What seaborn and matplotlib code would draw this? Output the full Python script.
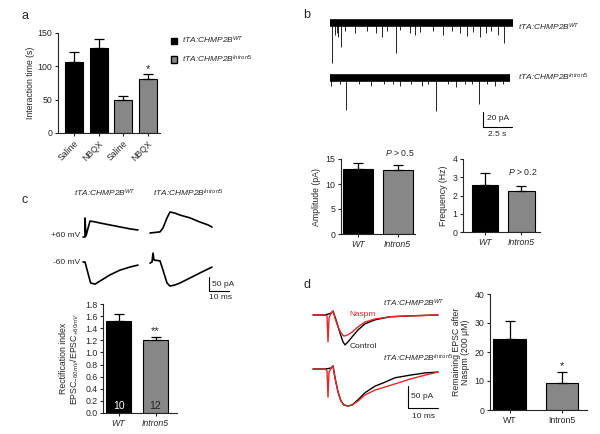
import numpy as np
import pandas as pd
import matplotlib
matplotlib.use('Agg')
import matplotlib.pyplot as plt
import seaborn as sns
from matplotlib.patches import Patch

sns.set_style('ticks')
plt.rcParams['font.family'] = ['Liberation Sans', 'DejaVu Sans']
plt.rcParams['mathtext.fontset'] = 'custom'
plt.rcParams['mathtext.rm'] = 'Liberation Sans'
plt.rcParams['mathtext.it'] = 'Liberation Sans:italic'
plt.rcParams['font.size'] = 6
plt.rcParams['axes.linewidth'] = 0.8

BLACK = '#000000'
GREY = '#878787'
RED = '#e8262a'
WT_LAB = r'tTA:CHMP2B$^{\mathit{WT}}$'
IN_LAB = r'tTA:CHMP2B$^{\mathit{Intron5}}$'

# ---- data ----
# a: social interaction time
a_groups = ['WT Saline', 'WT NBQX', 'Intron5 Saline', 'Intron5 NBQX']
a_ticks = ['Saline', 'NBQX', 'Saline', 'NBQX']
a_mean = [106, 128, 50, 81]
a_sem = [15, 13, 5, 7]

# b: mEPSC traces (event time s, amplitude pA)
b_wt_t = [0.2, 0.43, 0.57, 0.72, 0.95, 1.3, 2.16, 3.16, 4.0, 4.45, 4.94, 5.66, 6.03, 6.9, 7.33, 7.8,
          8.9, 9.77, 10.5, 11.2, 11.8, 12.36, 12.9, 13.45, 13.9, 14.5, 15.0]
b_wt_amp = [53, 16, 13, 19, 32, 11, 13, 11, 13, 19, 11, 40, 9, 13, 16, 12,
            11, 16, 11, 13, 17, 12, 19, 13, 11, 16, 27]
b_in_t = [0.1, 0.9, 1.38, 2.5, 3.5, 4.65, 5.4, 6.0, 7.0, 7.9, 8.45, 9.14, 10.2, 10.9, 11.6, 12.2,
          12.84, 13.5, 14.2, 14.9]
b_in_amp = [11, 8, 43, 9, 11, 8, 9, 11, 8, 11, 8, 44, 9, 12, 8, 9, 35, 8, 11, 9]
b_wt_len = 15.75
b_in_len = 15.5

# b: amplitude / frequency
b_groups = ['WT', 'Intron5']
amp_mean = [13.1, 12.8]
amp_sem = [1.2, 1.0]
freq_mean = [2.55, 2.25]
freq_sem = [0.68, 0.29]

# c: EPSC traces at +60 / -60 mV (ms, pA)
c_wt_pos_t = [-1, 0, 0, 0.5, 2.5, 5, 7.5, 12.5, 17.5, 22.5, 26.5]
c_wt_pos_i = [0, 0, 68, 4, 57, 54, 50, 43, 36, 29, 25]
c_wt_neg_t = [-1, 0, 2.8, 5, 7.5, 12.5, 17.5, 22.5, 26.5]
c_wt_neg_i = [0, 0, -75, -79, -68, -46, -29, -18, -11]
c_in_pos_t = [0, 5, 6.5, 8.5, 10, 12.5, 15, 20, 25, 29, 31]
c_in_pos_i = [0, 4, 18, 54, 75, 71, 64, 54, 39, 29, 21]
c_in_neg_t = [0, 1, 1.5, 2, 5, 6.5, 8.5, 10, 12.5, 15, 20, 25, 31]
c_in_neg_i = [-4, 0, 32, 7, 4, -29, -75, -86, -82, -75, -57, -39, -18]

# c: rectification index
ri_mean = [1.52, 1.20]
ri_sem = [0.11, 0.05]
ri_n = ['10', '12']

# d: Naspm traces (ms, pA)
d_wt_nas_t = [0, 4, 4.67, 5, 5.33, 6, 6.67, 7.33, 8.33, 9.33, 10.33, 11.67, 13, 15, 17.33, 20.67, 25.67, 32.33, 41.67]
d_wt_nas_i = [0, 0, -2, -61, -7, 4, 9, -7, -27, -41, -48, -45, -39, -27, -16, -9, -4, -2, 0]
d_wt_ctl_t = [0, 4, 6, 6.67, 7.67, 9, 10, 10.67, 11.67, 13, 15, 17.33, 20.67, 25.67, 32.33, 41.67]
d_wt_ctl_i = [0, 0, 4, 9, -11, -41, -61, -68, -61, -50, -34, -20, -11, -4, -2, 0]
d_in_nas_t = [0, 4, 4.67, 5, 5.33, 6, 6.67, 7.33, 8.33, 9.33, 10.33, 11.67, 13, 15, 17.33, 20.67, 24, 27.33, 32.33, 37.33, 41.67]
d_in_nas_i = [0, 0, -4, -64, -7, 2, 7, -20, -52, -73, -82, -84, -82, -73, -59, -48, -41, -34, -23, -14, -7]
d_in_ctl_t = [0, 4, 6, 6.67, 7.33, 8.33, 9.33, 10.33, 11.67, 13, 15, 17.33, 20.67, 24, 27.33, 32.33, 37.33, 41.67]
d_in_ctl_i = [0, 0, 2, 7, -20, -52, -73, -82, -84, -82, -70, -54, -39, -30, -20, -14, -9, -7]

# d: remaining EPSC
d_ticks = ['WT', 'Intron5']
rem_mean = [24.5, 9.4]
rem_sem = [6.3, 3.6]

# ---- layout helpers (pixel boxes on a 600x434 canvas) ----
W, H = 600, 434
fig = plt.figure(figsize=(6, 4.34), dpi=100)


def px_axes(x0, y0, x1, y1):
    return fig.add_axes([x0 / W, 1 - y1 / H, (x1 - x0) / W, (y1 - y0) / H])


def ftext(x, y, s, **kw):
    kw.setdefault('va', 'center')
    kw.setdefault('fontsize', 6)
    fig.text(x / W, 1 - y / H, s, **kw)


def bar_panel(ax, names, means, sems, colors, width):
    df = pd.DataFrame({'group': names, 'value': means})
    sns.barplot(data=df, x='group', y='value', hue='group', palette=colors, width=width,
                edgecolor='black', linewidth=0.8, dodge=False, legend=False, ax=ax)
    ax.errorbar(range(len(names)), means, yerr=[np.zeros(len(names)), sems], fmt='none',
                ecolor='black', elinewidth=0.9, capsize=3.5, capthick=0.9)
    sns.despine(ax=ax)
    ax.set_xlabel('')
    ax.tick_params(length=2.5, width=0.8, pad=1.5, labelsize=6.3)


# ---- a ----
ax = px_axes(58, 33, 160, 133)
bar_panel(ax, a_groups, a_mean, a_sem, [BLACK, BLACK, GREY, GREY], 0.73)
ax.set_xlim(-0.65, 3.49)
ax.set_ylim(0, 150)
ax.set_yticks([0, 50, 100, 150])
ax.set_xticks(range(4))
ax.set_xticklabels(a_ticks, rotation=45, ha='right', rotation_mode='anchor')
ax.set_ylabel('Interaction time (s)', fontsize=6.3, labelpad=2)
ax.text(3, 88, '*', ha='center', va='bottom', fontsize=8)
ax.legend([Patch(facecolor=BLACK, edgecolor='black'), Patch(facecolor=GREY, edgecolor='black')],
          [WT_LAB, IN_LAB], loc='upper left', bbox_to_anchor=(165 / W, 1 - 29 / H),
          bbox_transform=fig.transFigure, frameon=False, handlelength=0.8, handleheight=0.8,
          handletextpad=0.5, labelspacing=0.9, borderpad=0.2, prop=dict(style='italic', size=6))

# ---- b traces ----
ax = px_axes(325, 8, 520, 140)
ax.set_xlim(-0.431, 16.38)
ax.set_ylim(-156, 20)
ax.axis('off')
in_off = -72.7
ax.vlines(b_wt_t, 0, -np.array(b_wt_amp), color='black', lw=0.6)
ax.plot([0, b_wt_len], [0, 0], color='black', lw=5.5, solid_capstyle='butt')
ax.vlines(b_in_t, in_off, in_off - np.array(b_in_amp), color='black', lw=0.6)
ax.plot([0, b_in_len], [in_off, in_off], color='black', lw=5.5, solid_capstyle='butt')
ax.plot([13.19, 13.19, 15.69], [-118.7, -138.7, -138.7], color='black', lw=0.8)
ax.text(13.5, -128, '20 pA', fontsize=6, va='center')
ax.text(14.45, -149, '2.5 s', fontsize=6, va='center', ha='center')
ftext(518, 27, WT_LAB, style='italic')
ftext(518, 77, IN_LAB, style='italic')

# ---- b amplitude ----
ax = px_axes(341, 159, 415, 234)
bar_panel(ax, b_groups, amp_mean, amp_sem, [BLACK, GREY], 0.76)
ax.set_xlim(-0.43, 1.44)
ax.set_ylim(0, 15)
ax.set_yticks([0, 5, 10, 15])
ax.set_xticklabels(b_groups, style='italic')
ax.set_ylabel('Amplitude (pA)', fontsize=6.3, labelpad=3)
ax.text(1.06, 16.3, r'$\mathit{P}$ > 0.5', ha='center', va='center', fontsize=6.3, clip_on=False)

# ---- b frequency ----
ax = px_axes(463, 159, 540, 232)
bar_panel(ax, b_groups, freq_mean, freq_sem, [BLACK, GREY], 0.73)
ax.set_xlim(-0.6, 1.51)
ax.set_ylim(0, 4)
ax.set_yticks([0, 1, 2, 3, 4])
ax.set_xticklabels(b_groups, style='italic')
ax.set_ylabel('Frequency (Hz)', fontsize=6.3, labelpad=3)
ax.text(1.04, 3.3, r'$\mathit{P}$ > 0.2', ha='center', va='center', fontsize=6.3)

# ---- c traces ----
ax = px_axes(70, 205, 235, 300)
ax.set_xlim(-7.5, 75)
ax.set_ylim(-135.7, 203.6)
ax.axis('off')
pos_wt, pos_in, t_in = 89.3, 103.6, 32.5
ax.plot(c_wt_pos_t, np.array(c_wt_pos_i) + pos_wt, color='black', lw=1.2)
ax.plot(c_wt_neg_t, c_wt_neg_i, color='black', lw=1.2)
ax.plot(np.array(c_in_pos_t) + t_in, np.array(c_in_pos_i) + pos_in, color='black', lw=1.2)
ax.plot(np.array(c_in_neg_t) + t_in, c_in_neg_i, color='black', lw=1.2)
ax.plot([62, 62, 72], [-53.6, -103.6, -103.6], color='black', lw=0.8)
ax.text(63.5, -80, '50 pA', fontsize=6, va='center')
ax.text(67.5, -127, '10 ms', fontsize=6, va='center', ha='center')
ftext(80, 235, '+60 mV', ha='right')
ftext(80, 262, '-60 mV', ha='right')
ftext(105, 193, WT_LAB, style='italic', ha='center')
ftext(188, 193, IN_LAB, style='italic', ha='center')

# ---- c rectification ----
ax = px_axes(103, 304, 177, 413)
bar_panel(ax, b_groups, ri_mean, ri_sem, [BLACK, GREY], 0.68)
ax.set_xlim(-0.42, 1.58)
ax.set_ylim(0, 1.8)
ax.set_yticks(np.arange(0, 1.81, 0.2))
ax.set_yticklabels([f'{v:.1f}' for v in np.arange(0, 1.81, 0.2)])
ax.set_xticklabels(b_groups, style='italic')
ax.set_ylabel('Rectification index\nEPSC$_{-60mV}$/EPSC$_{+60mV}$', fontsize=6.3, labelpad=3,
              linespacing=1.0)
ax.text(1, 1.27, '**', ha='center', va='bottom', fontsize=8)
ax.text(0, 0.11, ri_n[0], ha='center', va='center', color='white', fontsize=7.5)
ax.text(1, 0.11, ri_n[1], ha='center', va='center', color='#222222', fontsize=7.5)

# ---- d traces ----
ax = px_axes(305, 290, 445, 425)
ax.set_xlim(-2.67, 44)
ax.set_ylim(-250, 56.8)
ax.axis('off')
d_off = -122.7
ax.plot(d_wt_ctl_t, d_wt_ctl_i, color='black', lw=1.0)
ax.plot(d_wt_nas_t, d_wt_nas_i, color=RED, lw=1.0)
ax.plot(d_in_ctl_t, np.array(d_in_ctl_i) + d_off, color='black', lw=1.0)
ax.plot(d_in_nas_t, np.array(d_in_nas_i) + d_off, color=RED, lw=1.0)
ax.plot([31.67, 31.67, 41.67], [-161.4, -211.4, -211.4], color='black', lw=0.8)
ftext(383, 303, WT_LAB, style='italic')
ftext(349, 315, 'Naspm', color=RED)
ftext(350, 347, 'Control')
ftext(383, 358, IN_LAB, style='italic')
ftext(411, 397, '50 pA')
ftext(423, 417, '10 ms', ha='center')

# ---- d remaining EPSC ----
ax = px_axes(490, 294, 587, 410)
bar_panel(ax, d_ticks, rem_mean, rem_sem, [BLACK, GREY], 0.63)
ax.set_xlim(-0.38, 1.48)
ax.set_ylim(0, 40)
ax.set_yticks([0, 10, 20, 30, 40])
ax.set_ylabel('Remaining EPSC after\nNaspm (200 \u03bcM)', fontsize=6.3, labelpad=3, linespacing=1.1)
ax.text(1, 13.4, '*', ha='center', va='bottom', fontsize=8)

# panel letters
ftext(21, 16, 'a', fontsize=9)
ftext(303, 15, 'b', fontsize=9)
ftext(21, 200, 'c', fontsize=9)
ftext(303, 285, 'd', fontsize=9)

fig.savefig('out.png', dpi=100)
